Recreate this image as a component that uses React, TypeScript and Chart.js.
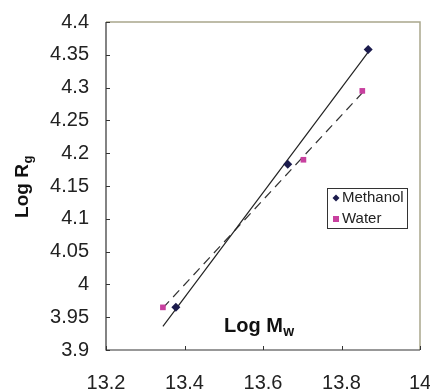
import React, { useEffect, useRef } from "react";
import { Chart, registerables } from "chart.js";

Chart.register(...registerables);

const methanolX = [13.378, 13.663, 13.868];
const methanolY = [3.965, 4.183, 4.358];
const waterX = [13.345, 13.703, 13.853];
const waterY = [3.965, 4.19, 4.295];
const methanolFitX = [13.345, 13.868];
const methanolFitY = [3.936, 4.354];
const waterFitX = [13.345, 13.853];
const waterFitY = [3.964, 4.292];

const xTicks = [13.2, 13.4, 13.6, 13.8, 14];
const xTickLabels = ["13.2", "13.4", "13.6", "13.8", "14"];
const yTicks = [3.9, 3.95, 4, 4.05, 4.1, 4.15, 4.2, 4.25, 4.3, 4.35, 4.4];
const yTickLabels = ["3.9", "3.95", "4", "4.05", "4.1", "4.15", "4.2", "4.25", "4.3", "4.35", "4.4"];

const seriesNames = ["Methanol", "Water"];
const FONT = "'Liberation Sans', Arial, sans-serif";
const METHANOL_COLOR = "#1b1b4d";
const WATER_COLOR = "#c8409f";

const zip = (xs: number[], ys: number[]) => xs.map((x, i) => ({ x, y: ys[i] }));

const decorPlugin = {
  id: "decor",
  afterDraw(chart: any) {
    const ctx = chart.ctx;
    const { left, right, top, bottom } = chart.chartArea;
    const xs = chart.scales.x;
    const ys = chart.scales.y;
    ctx.save();
    // top/right border
    ctx.strokeStyle = "#a9a78c";
    ctx.lineWidth = 1.5;
    ctx.beginPath();
    ctx.moveTo(left, top);
    ctx.lineTo(right, top);
    ctx.lineTo(right, bottom);
    ctx.stroke();
    // left/bottom axes
    ctx.strokeStyle = "#333";
    ctx.lineWidth = 1.2;
    ctx.beginPath();
    ctx.moveTo(left, top);
    ctx.lineTo(left, bottom);
    ctx.lineTo(right, bottom);
    ctx.stroke();
    // inner ticks
    ctx.lineWidth = 1;
    ctx.beginPath();
    yTicks.forEach((v) => {
      const py = Math.round(ys.getPixelForValue(v)) + 0.5;
      ctx.moveTo(left, py);
      ctx.lineTo(left + 4, py);
    });
    xTicks.forEach((v) => {
      const px = Math.round(xs.getPixelForValue(v)) + 0.5;
      ctx.moveTo(px, bottom);
      ctx.lineTo(px, bottom - 4);
    });
    ctx.stroke();

    // y title
    ctx.fillStyle = "#111";
    ctx.save();
    ctx.translate(28, 187);
    ctx.rotate(-Math.PI / 2);
    ctx.textBaseline = "alphabetic";
    ctx.textAlign = "left";
    const t1 = "Log R";
    ctx.font = `bold 19px ${FONT}`;
    const w1 = ctx.measureText(t1).width;
    ctx.font = `bold 13px ${FONT}`;
    const sub1W = ctx.measureText("g").width;
    const startY = -(w1 + sub1W) / 2;
    ctx.font = `bold 19px ${FONT}`;
    ctx.fillText(t1, startY, 0);
    ctx.font = `bold 13px ${FONT}`;
    ctx.fillText("g", startY + w1 + 0.5, 4);
    ctx.restore();

    // x title
    ctx.font = `bold 20px ${FONT}`;
    ctx.textAlign = "left";
    ctx.textBaseline = "alphabetic";
    const t2 = "Log M";
    ctx.fillText(t2, 224, 332);
    const w2 = ctx.measureText(t2).width;
    ctx.font = `bold 14px ${FONT}`;
    ctx.fillText("w", 224 + w2 + 0.5, 336);

    // legend
    const lx = 327, ly = 188, lw = 80, lh = 40;
    ctx.fillStyle = "#fff";
    ctx.fillRect(lx, ly, lw, lh);
    ctx.strokeStyle = "#333";
    ctx.lineWidth = 1;
    ctx.strokeRect(lx + 0.5, ly + 0.5, lw, lh);
    ctx.font = `15px ${FONT}`;
    ctx.textBaseline = "middle";
    ctx.fillStyle = "#222";
    ctx.fillText(seriesNames[0], lx + 15, ly + 10);
    ctx.fillText(seriesNames[1], lx + 15, ly + 31);
    // legend markers
    ctx.fillStyle = METHANOL_COLOR;
    ctx.beginPath();
    const mx = lx + 9, my = ly + 10;
    ctx.moveTo(mx, my - 3.5);
    ctx.lineTo(mx + 3.5, my);
    ctx.lineTo(mx, my + 3.5);
    ctx.lineTo(mx - 3.5, my);
    ctx.closePath();
    ctx.fill();
    ctx.fillStyle = WATER_COLOR;
    ctx.fillRect(lx + 6, ly + 28, 6, 6);
    ctx.restore();
  },
};

export default function App() {
  const ref = useRef<HTMLCanvasElement | null>(null);
  useEffect(() => {
    if (!ref.current) return;
    const chart = new Chart(ref.current, {
      type: "scatter",
      data: {
        datasets: [
          {
            label: seriesNames[0],
            data: zip(methanolX, methanolY),
            pointStyle: "rectRot",
            pointRadius: 4.5,
            backgroundColor: METHANOL_COLOR,
            borderColor: METHANOL_COLOR,
            borderWidth: 0,
            order: 0,
          },
          {
            label: seriesNames[1],
            data: zip(waterX, waterY),
            pointStyle: "rect",
            pointRadius: 4,
            backgroundColor: WATER_COLOR,
            borderColor: WATER_COLOR,
            borderWidth: 0,
            order: 0,
          },
          {
            label: "Methanol fit",
            data: zip(methanolFitX, methanolFitY),
            showLine: true,
            pointRadius: 0,
            borderColor: "#222",
            borderWidth: 1.2,
            order: 1,
          },
          {
            label: "Water fit",
            data: zip(waterFitX, waterFitY),
            showLine: true,
            pointRadius: 0,
            borderColor: "#333",
            borderWidth: 1.2,
            borderDash: [9, 6],
            order: 1,
          },
        ],
      },
      options: {
        animation: false,
        responsive: false,
        layout: { padding: { left: 0, top: 22, right: 10, bottom: 0 } },
        plugins: { legend: { display: false }, tooltip: { enabled: false } },
        scales: {
          x: {
            type: "linear",
            min: 13.2,
            max: 14,
            afterBuildTicks: (s: any) => { s.ticks = xTicks.map((v) => ({ value: v })); },
            afterFit: (s: any) => { s.height = 42; s.paddingLeft = 0; s.paddingRight = 0; },
            grid: { display: false, drawTicks: false },
            border: { display: false },
            ticks: {
              padding: 21,
              color: "#222",
              font: { family: FONT, size: 20 },
              maxRotation: 0,
              autoSkip: false,
              callback: (v: any) => {
                const i = xTicks.findIndex((t) => Math.abs(t - v) < 1e-6);
                return i >= 0 ? xTickLabels[i] : "";
              },
            },
          },
          y: {
            type: "linear",
            min: 3.9,
            max: 4.4,
            afterBuildTicks: (s: any) => { s.ticks = yTicks.map((v) => ({ value: v })); },
            afterFit: (s: any) => { s.width = 106; s.paddingTop = 0; s.paddingBottom = 0; },
            grid: { display: false, drawTicks: false },
            border: { display: false },
            ticks: {
              padding: 17,
              color: "#222",
              font: { family: FONT, size: 20 },
              autoSkip: false,
              callback: (v: any) => {
                const i = yTicks.findIndex((t) => Math.abs(t - v) < 1e-6);
                return i >= 0 ? yTickLabels[i] : "";
              },
            },
          },
        },
      },
      plugins: [decorPlugin],
    });
    return () => chart.destroy();
  }, []);
  return (
    <div style={{ position: "absolute", left: 0, top: 0, width: 430, height: 392, background: "#fff" }}>
      <canvas ref={ref} width={430} height={392} style={{ width: 430, height: 392, display: "block" }} />
    </div>
  );
}
